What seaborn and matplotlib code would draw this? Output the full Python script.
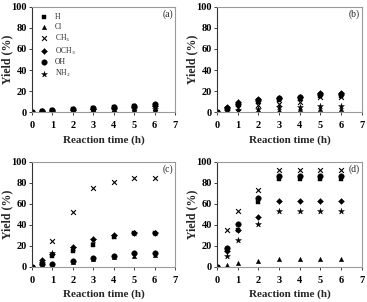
import matplotlib
matplotlib.use("Agg")
import matplotlib.pyplot as plt
import seaborn as sns
import pandas as pd

time_h = [0, 0.5, 1, 2, 3, 4, 5, 6]
substituents = ["H", "Cl", "CH3", "OCH3", "OH", "NH2"]
legend_labels = ["H", "Cl", r"CH$_3$", r"OCH$_3$", "OH", r"NH$_2$"]
panel_labels = ["(a)", "(b)", "(c)", "(d)"]

# panel (a)
a_H    = [0, 0.8, 1.5, 2.5, 3.5, 4.5, 5.5, 6.5]
a_Cl   = [0, 0.3, 0.5, 0.8, 1.0, 1.2, 1.5, 1.8]
a_CH3  = [0, 0.5, 1.0, 1.8, 2.5, 3.0, 3.5, 4.0]
a_OCH3 = [0, 0.6, 1.2, 2.2, 3.0, 4.0, 5.0, 6.0]
a_OH   = [0, 0.9, 1.8, 3.0, 4.2, 5.0, 6.2, 7.2]
a_NH2  = [0, 0.4, 0.7, 1.2, 1.5, 2.0, 2.5, 3.0]
# panel (b)
b_H    = [0, 2.5, 6.5, 9.8, 11.4, 12.4, 15.6, 15.6]
b_Cl   = [0, 0.5, 1.0, 1.5, 2.0, 2.5, 3.0, 3.0]
b_CH3  = [0, 2.0, 4.1, 6.7, 7.3, 9.8, 14.0, 14.0]
b_OCH3 = [0, 5.0, 9.2, 12.4, 13.6, 14.6, 17.8, 17.8]
b_OH   = [0, 4.0, 8.0, 11.0, 13.0, 14.0, 17.0, 17.0]
b_NH2  = [0, 1.0, 1.9, 3.2, 4.8, 5.0, 6.0, 6.0]
# panel (c)
c_H    = [0, 3.0, 10.8, 15.2, 21.0, 28.6, 32.0, 32.0]
c_Cl   = [0, 1.0, 2.0, 5.0, 7.5, 9.5, 10.5, 11.0]
c_CH3  = [0, 5.0, 24.8, 52.7, 74.9, 81.3, 84.4, 84.4]
c_OCH3 = [0, 6.7, 12.4, 19.4, 26.7, 30.5, 32.0, 32.0]
c_OH   = [0, 2.5, 3.0, 5.7, 8.3, 10.8, 13.6, 13.6]
c_NH2  = [0, 4.0, 13.0, 18.0, 26.0, 29.0, 32.0, 32.0]
# panel (d)
d_H    = [0, 16.0, 35.0, 61.5, 84.0, 84.0, 84.0, 84.0]
d_Cl   = [0, 1.5, 4.0, 6.0, 8.0, 8.0, 8.0, 8.0]
d_CH3  = [0, 35.0, 53.5, 73.0, 92.0, 92.0, 92.0, 92.0]
d_OCH3 = [0, 15.0, 35.0, 47.5, 63.0, 63.0, 63.0, 63.0]
d_OH   = [0, 18.0, 41.0, 66.0, 86.5, 86.5, 86.5, 86.5]
d_NH2  = [0, 10.5, 26.0, 40.5, 53.5, 53.5, 53.5, 53.5]

panels = [
    [a_H, a_Cl, a_CH3, a_OCH3, a_OH, a_NH2],
    [b_H, b_Cl, b_CH3, b_OCH3, b_OH, b_NH2],
    [c_H, c_Cl, c_CH3, c_OCH3, c_OH, c_NH2],
    [d_H, d_Cl, d_CH3, d_OCH3, d_OH, d_NH2],
]

markers = {"H": "s", "Cl": "^", "CH3": "x", "OCH3": "D", "OH": "o", "NH2": "*"}
sizes = {"H": 10, "Cl": 10, "CH3": 12, "OCH3": 9, "OH": 16, "NH2": 20}

sns.set_theme(style="white")
plt.rcParams["font.family"] = ["Liberation Serif", "DejaVu Serif"]
plt.rcParams["mathtext.fontset"] = "custom"
plt.rcParams["mathtext.rm"] = "Liberation Serif"

fig = plt.figure(figsize=(3.67, 3.02), dpi=100)
positions = [
    [0.087, 0.629, 0.390, 0.348],
    [0.591, 0.629, 0.395, 0.348],
    [0.087, 0.116, 0.390, 0.348],
    [0.591, 0.116, 0.395, 0.348],
]

for i, (pos, series) in enumerate(zip(positions, panels)):
    ax = fig.add_axes(pos)
    for name, lab, vals in zip(substituents, legend_labels, series):
        df = pd.DataFrame({"t": time_h, "y": vals})
        kw = dict(marker=markers[name], s=sizes[name], color="black", label=lab, ax=ax)
        if name == "CH3":
            kw["linewidth"] = 0.8
        else:
            kw["edgecolor"] = "black"
            kw["linewidth"] = 0.3
        sns.scatterplot(data=df, x="t", y="y", **kw)
    ax.set_xlim(0, 7)
    ax.set_ylim(0, 100)
    ax.set_xticks(range(0, 8))
    ax.set_yticks(range(0, 101, 20))
    ax.set_xlabel("Reaction time (h)", fontsize=8, fontweight="bold", labelpad=3.5)
    ax.set_ylabel("Yield (%)", fontsize=8.5, fontweight="bold", labelpad=-1)
    for lbl in ax.get_xticklabels() + ax.get_yticklabels():
        lbl.set_fontweight("bold")
        lbl.set_fontsize(7.5)
    ax.tick_params(axis="both", direction="out", length=2, width=0.6,
                   bottom=True, left=True, colors="#222222", labelcolor="black")
    ax.tick_params(axis="x", pad=4.5)
    ax.tick_params(axis="y", pad=1.5)
    for side in ["top", "right", "bottom"]:
        ax.spines[side].set_visible(True)
        ax.spines[side].set_color("#9a9a9a")
        ax.spines[side].set_linewidth(0.8)
    ax.spines["left"].set_color("#333333")
    ax.spines["left"].set_linewidth(0.8)
    ax.text(0.985, 0.93, panel_labels[i], transform=ax.transAxes, ha="right",
            va="center", fontsize=7)
    if i == 0:
        ax.legend(loc="upper left", frameon=False, fontsize=5.5, handlelength=1.0,
                  handletextpad=0.9, labelspacing=0.2, borderaxespad=0.3,
                  bbox_to_anchor=(0.02, 0.99))
    else:
        ax.get_legend().remove()

fig.savefig("out.png", dpi=100)
